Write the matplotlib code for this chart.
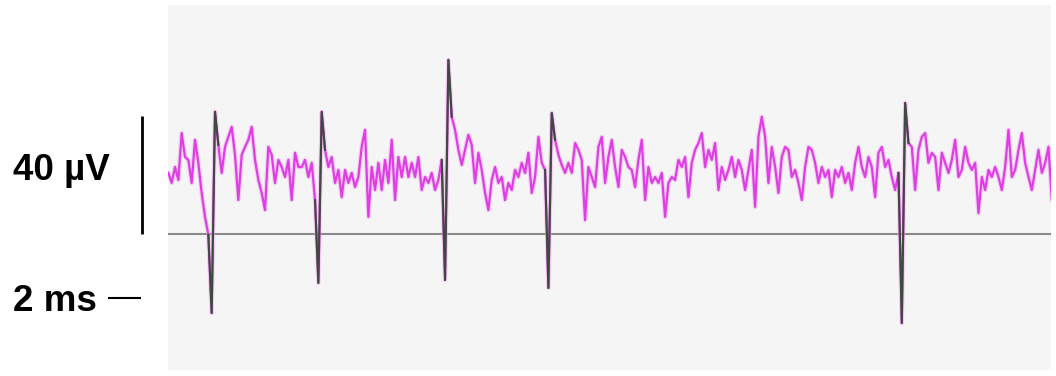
import numpy as np
import matplotlib.pyplot as plt

plt.rcParams['font.family'] = ['Liberation Sans', 'DejaVu Sans']

# extracellular recording, sampled every 0.2 ms (amplitude in uV)
dt_ms = 0.2
trace_uv = [
    20.7, 17.3, 22.7, 18.3, 34.2, 26.1, 25.1, 17.3, 31.9, 24.1,
    13.9, 5.8, -0.3, -26.8, 41.4, 30.2, 20.7, 29.5, 32.9, 36.3,
    26.8, 11.5, 26.8, 29.5, 31.9, 36.3, 25.1, 18.3, 13.9, 8.1,
    29.5, 26.8, 17.3, 25.1, 22.7, 19.3, 25.1, 11.5, 27.5, 22.7,
    22.7, 25.1, 19.3, 24.1, 11.5, -16.6, 41.4, 28.5, 22.7, 26.1,
    17.3, 21.7, 12.5, 21.7, 17.3, 20.7, 15.9, 19.3, 29.5, 35.3,
    5.8, 22.7, 14.9, 24.1, 14.9, 25.1, 17.3, 31.9, 11.5, 26.1,
    19.3, 26.1, 19.3, 24.1, 19.3, 26.1, 14.9, 19.3, 17.3, 20.7,
    14.9, 18.3, 25.1, -15.6, 59.0, 39.7, 35.3, 28.5, 23.4, 28.5,
    33.6, 30.2, 17.3, 27.5, 21.7, 13.9, 8.1, 18.3, 22.7, 17.3,
    19.3, 11.5, 17.3, 14.9, 21.7, 19.3, 24.1, 20.7, 27.5, 13.9,
    19.3, 32.9, 24.1, 21.7, -18.3, 41.0, 31.9, 26.8, 23.4, 20.7,
    24.1, 20.7, 30.8, 28.5, 25.1, 4.7, 22.7, 19.3, 15.9, 29.5,
    32.9, 17.3, 26.1, 31.9, 22.7, 15.9, 28.5, 26.1, 22.7, 21.7,
    15.9, 25.1, 31.9, 11.5, 22.7, 17.3, 19.3, 17.3, 20.7, 5.8,
    17.3, 19.3, 18.3, 25.1, 22.7, 26.1, 12.5, 24.1, 28.5, 30.8,
    34.2, 22.7, 28.5, 25.1, 30.8, 14.9, 22.7, 18.3, 21.7, 26.1,
    19.3, 25.1, 21.7, 14.9, 21.7, 28.5, 9.2, 32.9, 39.7, 32.9,
    17.3, 29.5, 22.7, 13.9, 26.1, 29.5, 28.5, 19.3, 21.7, 17.3,
    11.5, 22.7, 29.5, 28.5, 24.1, 17.3, 22.7, 19.3, 21.7, 12.5,
    21.7, 19.3, 22.7, 17.3, 20.7, 14.9, 24.1, 29.5, 22.7, 19.3,
    26.1, 22.7, 12.5, 27.5, 29.5, 22.7, 25.1, 19.3, 14.9, 20.7,
    -30.2, 44.4, 30.8, 29.5, 14.9, 28.5, 32.9, 34.2, 24.1, 27.5,
    26.1, 14.9, 27.5, 24.1, 20.7, 25.1, 31.9, 19.3, 21.7, 29.5,
    24.1, 21.7, 24.1, 7.1, 19.3, 14.9, 21.7, 19.3, 22.7, 19.3,
    14.9, 22.7, 35.3, 19.3, 21.7, 28.5, 34.2, 24.1, 19.3, 14.9,
    21.7, 28.5, 20.7, 24.1, 29.5, 11.5,
]
# sample index of the negative peak of each detected spike
spike_idx = [13, 45, 83, 114, 220]
threshold_uv = 0.0

v = np.array(trace_uv)
t = np.arange(len(v)) * dt_ms

fig = plt.figure(figsize=(10.56, 3.76), dpi=100)
ax = fig.add_axes([168 / 1056, 6 / 376, 883 / 1056, 365 / 376])
ax.set_facecolor('#f5f5f5')

ax.axhline(threshold_uv, color='#8a8a8a', lw=1.5, zorder=1)
# soft halo under the trace, then the trace itself
ax.plot(t, v, color='#f2a8f2', lw=3.2, alpha=0.5, zorder=2)
ax.plot(t, v, color='#de3ee4', lw=1.6, zorder=2)

# spikes drawn on top in a dark colour
for i in spike_idx:
    seg = slice(i - 1, i + 3)
    ax.plot(t[seg], v[seg], color='#3d4a3d', lw=1.5, zorder=3)

ax.set_xlim(-0.02, 52.95)
ax.set_ylim(-46.1, 77.6)
for s in ax.spines.values():
    s.set_visible(False)
ax.set_xticks([])
ax.set_yticks([])

# scale bars: 40 uV and 2 ms
ax.plot([-1.58, -1.58], [threshold_uv, threshold_uv + 40], color='black', lw=2,
        clip_on=False, solid_capstyle='butt')
ax.plot([-3.62, -1.62], [-21.6, -21.6], color='black', lw=1.5,
        clip_on=False, solid_capstyle='butt')
ax.text(-9.34, 21.4, '40 µV', fontsize=26.5, fontweight='bold',
        ha='left', va='center', clip_on=False)
ax.text(-9.34, -23.0, '2 ms', fontsize=26.5, fontweight='bold',
        ha='left', va='center', clip_on=False)

fig.savefig('out.png', dpi=100)
